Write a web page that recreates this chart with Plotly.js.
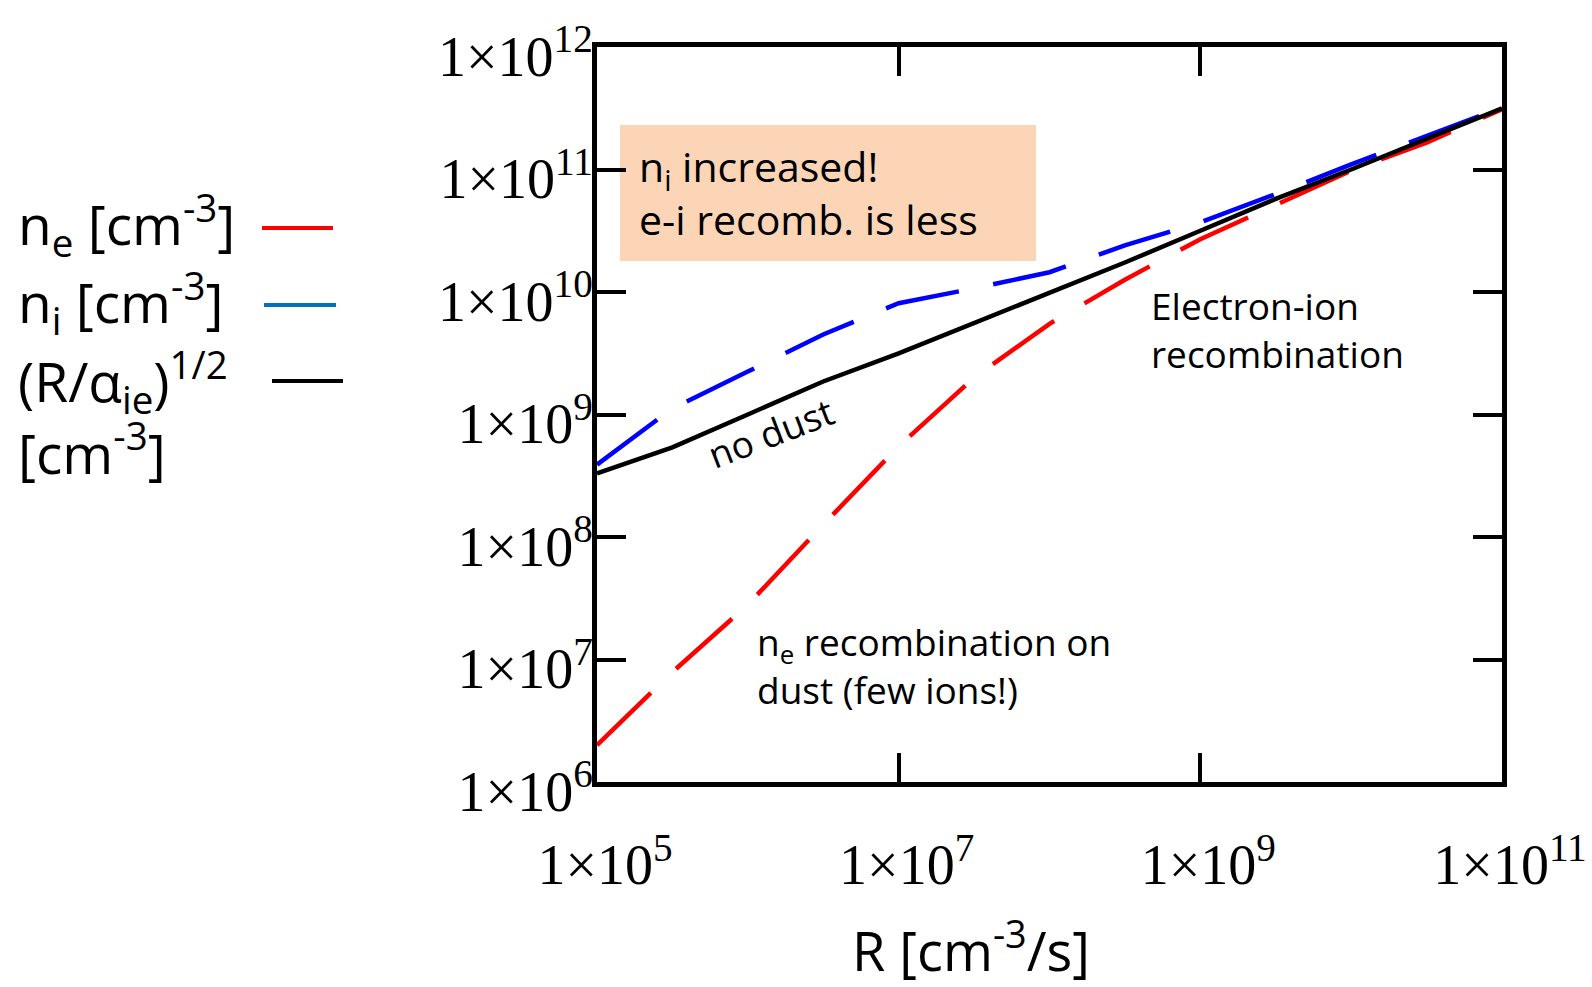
<!DOCTYPE html>
<html><head><meta charset="utf-8">
<script src="https://cdn.plot.ly/plotly-3.0.1.min.js"></script>
<style>html,body{margin:0;padding:0;background:#fff}</style>
</head><body>
<div id="chart" style="width:1592px;height:987px"></div>
<script>
// Data
const R = [1e5, 3.16e5, 1e6, 3.16e6, 1e7, 3.16e7, 1e8, 3.16e8, 1e9, 3.16e9, 1e10, 3.16e10, 1e11];
const ne = [2.0e6, 7.9e6, 2.8e7, 1.26e8, 5.5e8, 2.0e9, 5.5e9, 1.26e10, 2.7e10, 5.1e10, 9.8e10, 1.66e11, 3.1e11];
const ni = [3.9e8, 1.12e9, 2.24e9, 4.5e9, 8.1e9, 1.07e10, 1.45e10, 2.4e10, 3.7e10, 6.3e10, 1.1e11, 1.86e11, 3.2e11];
const noDust = [3.3e8, 5.4e8, 1.0e9, 1.86e9, 3.16e9, 5.6e9, 1.0e10, 1.74e10, 3.16e10, 5.75e10, 1.0e11, 1.78e11, 3.16e11];

const xTickVals = [1e5, 1e7, 1e9, 1e11];
const xTickText = ['1×10<sup>5</sup>', '1×10<sup>7</sup>', '1×10<sup>9</sup>', '1×10<sup>11</sup>'];
const yTickVals = [1e6, 1e7, 1e8, 1e9, 1e10, 1e11, 1e12];
const yTickText = ['1×10<sup>6</sup>', '1×10<sup>7</sup>', '1×10<sup>8</sup>', '1×10<sup>9</sup>', '1×10<sup>10</sup>', '1×10<sup>11</sup>', '1×10<sup>12</sup>'];

const legendNames = ['n<sub>e</sub> [cm<sup>-3</sup>]', 'n<sub>i</sub> [cm<sup>-3</sup>]', '(R/α<sub>ie</sub>)<sup>1/2</sup><br>[cm<sup>-3</sup>]'];
const legendColors = ['#FF0000', '#0070C0', '#000000'];

// layout geometry (pixels)
const W = 1592, H = 987;
const L = 597, Rr = 1502, T = 47, B = 782;
const px = x => (x - L) / (Rr - L);
const py = y => (B - y) / (B - T);

const SANS = 'Open Sans, Noto Sans, sans-serif';
const SERIF = 'Liberation Serif, Times New Roman, serif';

const dash = '75px,35px';
const traces = [
  {x: R, y: ne, mode: 'lines', name: 'n_e', line: {color: '#FF0000', width: 4.5, dash: dash}},
  {x: R, y: ni, mode: 'lines', name: 'n_i', line: {color: '#0000FF', width: 4.5, dash: dash}},
  {x: R, y: noDust, mode: 'lines', name: '(R/α_ie)^1/2', line: {color: '#000000', width: 4.5}}
];

function ann(text, x, y, size, opts) {
  return Object.assign({
    text: text, xref: 'paper', yref: 'paper', x: px(x), y: py(y),
    xanchor: 'left', yanchor: 'middle', showarrow: false, align: 'left',
    font: {family: SANS, size: size, color: '#000'}
  }, opts || {});
}

const annotations = [
  ann(legendNames[0], 16, 225, 55),
  ann(legendNames[1], 16, 302, 55),
  ann(legendNames[2], 16, 414, 55),
  ann('n<sub>i</sub> increased!<br>e-i recomb. is less', 637, 193, 41),
  ann('Electron-ion<br>recombination', 1149, 329, 37),
  ann('n<sub>e</sub> recombination on<br>dust (few ions!)', 755, 665, 37),
  ann('no dust', 770, 432, 37, {xanchor: 'center', textangle: -21}),
  ann('R [cm<sup>-3</sup>/s]', 971, 947, 54, {xanchor: 'center'})
];

const shapes = [
  {type: 'rect', xref: 'paper', yref: 'paper', x0: px(620), x1: px(1036), y0: py(261), y1: py(125),
   fillcolor: '#FBD5B5', line: {width: 0}, layer: 'below'},
  {type: 'line', xref: 'paper', yref: 'paper', x0: px(262), x1: px(333), y0: py(228), y1: py(228), line: {color: legendColors[0], width: 4}},
  {type: 'line', xref: 'paper', yref: 'paper', x0: px(264), x1: px(336), y0: py(305), y1: py(305), line: {color: legendColors[1], width: 4}},
  {type: 'line', xref: 'paper', yref: 'paper', x0: px(272), x1: px(343), y0: py(381), y1: py(381), line: {color: legendColors[2], width: 4}}
];

const axisCommon = {
  type: 'log', showline: true, linewidth: 5, linecolor: '#000', mirror: 'ticks',
  ticks: 'inside', ticklen: 29, tickwidth: 4, tickcolor: '#000',
  showgrid: false, zeroline: false,
  tickfont: {family: SERIF, size: 56, color: '#000'}
};

const layout = {
  width: W, height: H,
  margin: {l: L, r: W - Rr, t: T, b: H - B, pad: 0},
  paper_bgcolor: '#fff', plot_bgcolor: 'rgba(0,0,0,0)',
  showlegend: false,
  xaxis: Object.assign({}, axisCommon, {range: [5, 11], tickvals: xTickVals, ticktext: xTickText, ticklabelstandoff: 30, ticklabelshift: 8}),
  yaxis: Object.assign({}, axisCommon, {range: [6, 12], tickvals: yTickVals, ticktext: yTickText, ticklabelstandoff: -12, ticklabelshift: 9}),
  annotations: annotations,
  shapes: shapes
};

Plotly.newPlot('chart', traces, layout, {displayModeBar: false, staticPlot: true});
</script>
</body></html>
